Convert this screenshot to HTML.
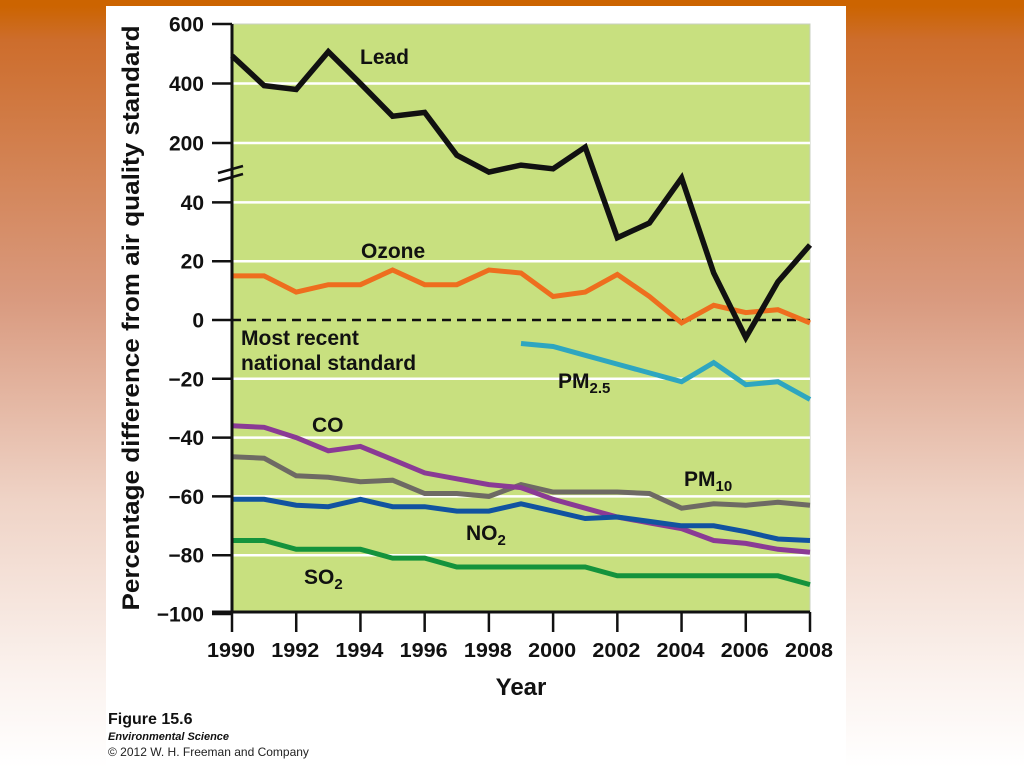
<!DOCTYPE html>
<html><head><meta charset="utf-8">
<style>
html,body{margin:0;padding:0;width:1024px;height:768px;overflow:hidden;font-family:"Liberation Sans",sans-serif}
body{background:linear-gradient(to bottom,#cc6400 0px,#cc6400 6px,#cd6d2c 40px,#d99a7f 300px,#efd3c6 500px,#fbf3ef 680px,#ffffff 768px)}
#panel{position:absolute;left:106px;top:6px;width:740px;height:762px;background:#fff}
svg{position:absolute;left:0;top:0}
</style></head><body>
<div id="panel"></div>
<svg id="chart" width="1024" height="768"></svg>
<script>
const years=[1990,1991,1992,1993,1994,1995,1996,1997,1998,1999,2000,2001,2002,2003,2004,2005,2006,2007,2008];
const lead=[493,393,380,507,400,290,303,167,121,140,130,189,28,33,105,16,-6,13,25.5];
const ozone=[15,15,9.5,12,12,17,12,12,17,16,8,9.5,15.5,8,-1,5,2.5,3.5,-1];
const pm25Years=[1999,2000,2001,2002,2003,2004,2005,2006,2007,2008];
const pm25=[-8,-9,-12,-15,-18,-21,-14.5,-22,-21,-27];
const co=[-36,-36.5,-40,-44.5,-43,-47.5,-52,-54,-56,-57,-61,-64,-67,-69,-71,-75,-76,-78,-79];
const pm10=[-46.5,-47,-53,-53.5,-55,-54.5,-59,-59,-60,-56,-58.5,-58.5,-58.5,-59,-64,-62.5,-63,-62,-63];
const no2=[-61,-61,-63,-63.5,-61,-63.5,-63.5,-65,-65,-62.5,-65,-67.5,-67,-68.5,-70,-70,-72,-74.5,-75];
const so2=[-75,-75,-78,-78,-78,-81,-81,-84,-84,-84,-84,-84,-87,-87,-87,-87,-87,-87,-90];
const yTicks=[600,400,200,40,20,0,-20,-40,-60,-80,-100];
const yTickLabels=["600","400","200","40","20","0","\u221220","\u221240","\u221260","\u221280","\u2212100"];
const xTicks=[1990,1992,1994,1996,1998,2000,2002,2004,2006,2008];

const X0=232,X1=810;
function xs(yr){return X0+(yr-1990)*(X1-X0)/18;}
function ys(v){
  if(v<=40) return 320-v*2.94;
  if(v<=200) return 202-(v-40)*(59/160);
  return 143-(v-200)*(119/400);
}
const NS="http://www.w3.org/2000/svg";
const svg=document.getElementById('chart');
function el(tag,attrs,parent){const e=document.createElementNS(NS,tag);for(const k in attrs)e.setAttribute(k,attrs[k]);(parent||svg).appendChild(e);return e;}

const bg=el('rect',{x:X0,y:24,width:X1-X0,height:612-24,fill:'#c8e07f',stroke:'#c8cfc0','stroke-width':1});



yTicks.forEach((t,i)=>{
  const y=ys(t);
  if(t!==0&&t!==-100&&t!==600){
    const g=el('line',{x1:X0,x2:X1,y1:y,y2:y,stroke:'#fff','stroke-width':2.5});
    
    
  }
  const tk=el('line',{x1:212,x2:X0,y1:y,y2:y,stroke:'#111','stroke-width':2.5});
  
  
  const tx=el('text',{x:204,y:y+7.5,'text-anchor':'end','font-size':21,'font-weight':'bold',fill:'#111'});
  tx.textContent=yTickLabels[i];
  
  
});

const zl=el('line',{x1:X0,x2:X1,y1:ys(0),y2:ys(0),stroke:'#111','stroke-width':2.5,'stroke-dasharray':'9,6'});



function series(xv,vals,color,name,w){
  const pts=vals.map((v,i)=>xs(xv[i]).toFixed(1)+','+ys(v).toFixed(1)).join(' ');
  const p=el('polyline',{points:pts,fill:'none',stroke:color,'stroke-width':w||5,'stroke-linejoin':'miter'});
  
  
}
series(years,so2,'#14933c','so2-line');
series(years,pm10,'#6e6a64','pm10-line');
series(years,co,'#8a3a95','co-line');
series(years,no2,'#1153a0','no2-line');
series(pm25Years,pm25,'#2ea6c0','pm25-line');
series(years,ozone,'#ee6e1e','ozone-line');
series(years,lead,'#111','lead-line',5.5);

const ya=el('line',{x1:X0,x2:X0,y1:24,y2:613,stroke:'#111','stroke-width':3});


const xa=el('line',{x1:X0-20,x2:X1,y1:612,y2:612,stroke:'#111','stroke-width':3});


const b1=el('line',{x1:218,x2:243,y1:173,y2:166,stroke:'#111','stroke-width':2.5});


const b2=el('line',{x1:218,x2:243,y1:181,y2:174,stroke:'#111','stroke-width':2.5});



xTicks.forEach(t=>{
  const x=xs(t);
  const tk=el('line',{x1:x,x2:x,y1:612,y2:632,stroke:'#111','stroke-width':2.5});
  
  
  const tx=el('text',{x:x-25,y:657,'font-size':20,'font-weight':'bold',fill:'#111',textLength:48,lengthAdjust:'spacingAndGlyphs'});
  tx.textContent=String(t);
  
  
});

function label(txt,x,y,name,sub){
  const t=el('text',{x:x,y:y,'font-size':21,'font-weight':'bold',fill:'#111'});
  t.textContent=txt;
  if(sub){const s=el('tspan',{'font-size':15,dy:5},t);s.textContent=sub;}
  
  
}
label('Lead',360,64,'lead-label');
label('Ozone',361,258,'ozone-label');
label('Most recent',241,345,'standard-label-1');
label('national standard',241,370,'standard-label-2');
label('PM',558,388,'pm25-label','2.5');
label('CO',312,432,'co-label');
label('PM',684,486,'pm10-label','10');
label('NO',466,540,'no2-label','2');
label('SO',304,584,'so2-label','2');

const yt=el('text',{x:0,y:0,'font-size':24,'font-weight':'bold',fill:'#111','text-anchor':'middle',transform:'translate(139,318) rotate(-90)',textLength:585,lengthAdjust:'spacingAndGlyphs'});
yt.textContent='Percentage difference from air quality standard';


const xt=el('text',{x:521,y:695,'font-size':24,'font-weight':'bold',fill:'#111','text-anchor':'middle'});
xt.textContent='Year';



const f1=el('text',{x:108,y:724,'font-size':16,'font-weight':'bold',fill:'#111'});
f1.textContent='Figure 15.6';


const f2=el('text',{x:108,y:740,'font-size':11,'font-weight':'bold','font-style':'italic',fill:'#111'});
f2.textContent='Environmental Science';


const f3=el('text',{x:108,y:756,'font-size':12,fill:'#222'});
f3.textContent='\u00a9 2012 W. H. Freeman and Company';


</script>
</body></html>
